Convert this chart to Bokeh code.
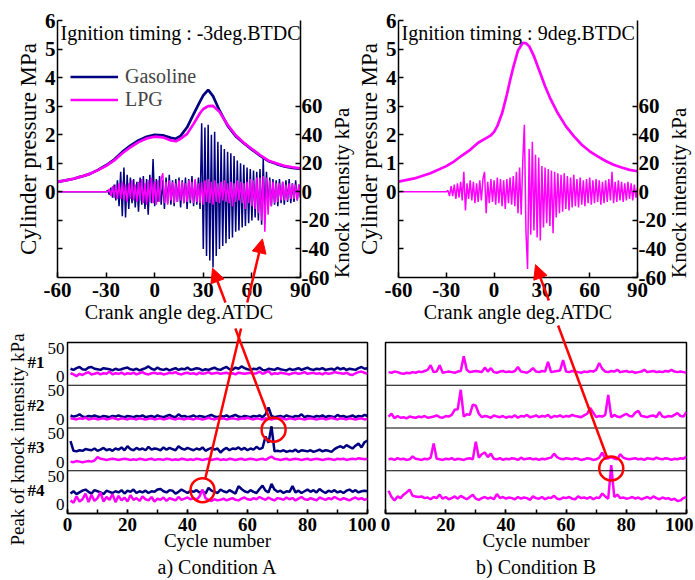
import math
from bokeh.plotting import figure
from bokeh.models import (Range1d, LinearAxis, FixedTicker, SingleIntervalTicker, Span, Label,
                          Legend, LegendItem, Arrow, NormalHead, Title)
from bokeh.layouts import row, column
from bokeh.embed import file_html
from bokeh.resources import INLINE
from bokeh.core.properties import value

SERIF = "Liberation Serif"
NAVY = "#000080"
MAGENTA = "#ff00ff"
RED = "#ff0000"

# ------------------------------------------------------------------ data
angle_ticks = [-60, -30, 0, 30, 60, 90]
press_ticks = [-2, -1, 0, 1, 2, 3, 4, 5, 6]
press_tick_labels = ["", "", "0", "1", "2", "3", "4", "5", "6"]
knock_ticks = [-60, -40, -20, 0, 20, 40, 60]
knock_tick_labels = ["-60", "-40", "-20", "0", "20", "40", "60"]
cycle_ticks_labels = ["0", "20", "40", "60", "80", "100"]

# cylinder pressure (MPa), condition A
press_angle_A = [-60, -55, -50, -45, -40, -35, -30, -25, -20, -15, -10, -5, 0, 5, 10, 13, 16,
                 20, 24, 28, 30, 33, 36, 40, 45, 50, 55, 60, 65, 70, 75, 80, 85, 90]
press_gas_A = [0.35, 0.40, 0.46, 0.54, 0.63, 0.77, 0.93, 1.13, 1.40, 1.62, 1.80, 1.93, 2.00, 1.98,
               1.89, 1.86, 1.96, 2.26, 2.72, 3.17, 3.38, 3.57, 3.35, 2.85, 2.32, 1.95, 1.70, 1.48,
               1.27, 1.08, 0.98, 0.89, 0.84, 0.80]
press_lpg_A = [0.35, 0.40, 0.46, 0.54, 0.63, 0.76, 0.91, 1.10, 1.35, 1.56, 1.74, 1.87, 1.93, 1.91,
               1.80, 1.77, 1.86, 2.03, 2.38, 2.76, 2.90, 3.00, 3.01, 2.80, 2.35, 1.98, 1.72, 1.50,
               1.29, 1.10, 1.00, 0.91, 0.86, 0.82]
# cylinder pressure (MPa), condition B (LPG)
press_angle_B = [-60, -50, -40, -30, -25, -20, -15, -10, -5, -2, 0, 2, 5, 8, 10, 12, 15, 18, 20,
                 22, 25, 28, 32, 35, 40, 45, 50, 55, 60, 65, 70, 75, 80, 85, 90]
press_lpg_B = [0.36, 0.47, 0.65, 0.90, 1.07, 1.28, 1.47, 1.72, 1.88, 1.98, 2.10, 2.30, 2.75, 3.40,
               3.90, 4.35, 4.95, 5.22, 5.20, 5.10, 4.75, 4.30, 3.70, 3.30, 2.75, 2.30, 1.95, 1.65,
               1.42, 1.24, 1.08, 0.95, 0.85, 0.77, 0.72]

# knock intensity (kPa), sampled every crank degree from -30 to 90 (flat before -30)
knock_angle = [-60] + list(range(-30, 91))
knock_gas_A = [0,
    0, 1, -2, 3, -4, 5, -6, 8, -10, 14,
    -17, 17, -18, 12, -12, 10, -8, 9, -11, 7,
    -14, 10, -9, 11, -12, 9, -16, 12, -8, 23,
    -10, 9, -7, 11, -9, 8, -12, 10, -8, 12,
    -9, 8, -10, 9, -7, 10, -11, 8, -8, 10,
    -12, 9, -8, 11, -10, 8, -9, 10, -12, 48,
    -40, 45, -45, 47, -48, 40, -53, 42, -45, 35,
    -40, 33, -38, 30, -36, 28, -33, 27, -32, 25,
    -28, 22, -27, 20, -25, 19, -24, 17, -22, 16,
    -20, 15, -18, 14, -20, 16, -23, 23, -18, 14,
    -12, 10, -10, 9, -9, 8, -10, 9, -8, 7,
    -9, 8, -7, 9, -8, 6, -7, 8, -6, 5,
    -4]
knock_lpg_A = [0,
    0, 0, 2, -3, 4, -4, 5, -5, 6, -5,
    7, -6, 5, -7, 6, -5, 8, -6, 5, -7,
    7, -6, 9, -8, 6, -9, 8, -7, 10, -8,
    7, -9, 8, -7, 9, 13, -8, 7, -9, 8,
    -6, 7, -8, 6, -7, 8, -6, 7, -8, 6,
    -7, 8, -6, 7, -8, 9, -7, 6, -8, 7,
    -9, 8, -7, 9, -8, 7, -9, 8, -7, 6,
    -8, 7, -6, 8, -7, 6, -8, 7, -10, 6,
    -7, 8, -6, 7, -8, 6, -12, 7, -8, 9,
    -10, 8, -12, 10, -15, 10, -20, 11, -28, 10,
    -16, 8, -10, 7, -8, 6, -7, 6, -6, 7,
    -6, 5, -6, 6, -5, 6, -5, 5, -6, 5,
    -4]
knock_lpg_B = [0,
    0, 1, -3, 4, -3, 5, -5, 6, -4, 7,
    -6, 14, -13, 6, -5, 8, -6, 7, -8, 6,
    -7, 8, -6, 9, 14, -15, 7, -8, 9, -7,
    8, -9, 10, -8, 9, -10, 8, -12, 9, -8,
    10, -9, 11, -10, 14, -15, 17, -16, 22, 47,
    -28, -54, 30, -30, 35, -27, 26, -32, 24, -34,
    18, -25, 17, -22, 16, -24, 15, -29, 14, -18,
    13, -15, 12, -14, 13, -12, 11, -13, 10, -11,
    12, -10, 9, -11, 10, -9, 8, -10, 9, -8,
    10, -9, 8, -8, 9, -7, 8, -9, 7, -8,
    8, -7, 9, -6, 14, -8, 7, -7, 8, -6,
    7, -7, 6, -6, 7, -5, 6, -6, 5, -4,
    3]

# peak of knock intensity (kPa) per cycle, cylinders #1..#4
cycles = list(range(1, 101))
gasA_1 = [14, 12, 15, 17, 13, 12, 16, 17, 14, 13, 12, 15, 14, 13, 11, 14, 12, 13, 15, 16,
          13, 12, 14, 11, 13, 15, 18, 14, 12, 16, 13, 12, 14, 11, 13, 15, 12, 14, 13, 16,
          12, 13, 15, 14, 11, 13, 12, 14, 16, 13, 12, 15, 17, 13, 12, 16, 14, 18, 15, 13,
          12, 14, 13, 16, 12, 11, 14, 13, 12, 15, 13, 12, 11, 14, 12, 13, 15, 12, 14, 16,
          13, 12, 14, 13, 15, 12, 13, 14, 12, 16, 13, 15, 12, 14, 13, 12, 15, 17, 14, 15]
lpgA_1 = [6, 4, 1, 5, 3, 6, 8, 4, 5, 7, 4, 6, 5, 9, 4, 6, 5, 7, 4, 6,
          5, 7, 4, 6, 8, 5, 4, 6, 7, 5, 6, 4, 5, 7, 6, 8, 5, 4, 6, 7,
          5, 6, 4, 7, 5, 6, 8, 5, 6, 7, 5, 6, 7, 5, 6, 4, 7, 6, 5, 6,
          7, 5, 6, 9, 5, 7, 10, 4, 6, 5, 7, 6, 5, 4, 6, 7, 5, 6, 8, 5,
          6, 7, 5, 6, 4, 7, 5, 6, 8, 7, 6, 5, 7, 4, 3, 6, 8, 9, 7, 5]
gasA_2 = [7, 5, 6, 9, 5, 4, 6, 5, 7, 5, 4, 6, 5, 4, 6, 5, 7, 5, 4, 6,
          5, 4, 6, 5, 7, 4, 5, 6, 4, 7, 5, 4, 6, 8, 5, 4, 9, 5, 6, 4,
          5, 7, 4, 6, 5, 4, 6, 8, 5, 4, 6, 5, 7, 4, 6, 8, 5, 4, 6, 5,
          4, 6, 5, 7, 4, 9, 21, 6, 4, 5, 6, 4, 7, 5, 4, 6, 5, 9, 4, 6,
          5, 4, 6, 5, 7, 4, 6, 5, 4, 8, 5, 6, 4, 5, 7, 4, 6, 5, 8, 6]
lpgA_2 = [2, 1, 0, 2, 1, 3, 0, 1, 2, 0, 1, 2, 0, 1, 3, 1, 0, 2, 1, 0,
          2, 1, 0, 2, 1, 0, 1, 2, 0, 1, 2, 0, 1, 3, 1, 0, 2, 1, 0, 2,
          1, 0, 2, 1, 0, 1, 3, 1, 0, 2, 1, 2, 0, 1, 2, 1, 0, 2, 1, 3,
          1, 0, 2, 1, 0, 2, 1, 0, 1, 2, 3, 1, 0, 2, 1, 0, 2, 1, 0, 1,
          2, 1, 0, 1, 2, 0, 1, 3, 1, 0, 2, 1, 0, 2, 1, 0, 1, 2, 0, 1]
gasA_3 = [37, 20, 19, 21, 20, 23, 22, 21, 24, 20, 22, 25, 21, 23, 20, 24, 22, 26, 21, 28,
          23, 21, 25, 22, 24, 21, 27, 22, 24, 23, 21, 26, 22, 25, 23, 21, 28, 24, 22, 25,
          23, 21, 24, 22, 26, 20, 23, 25, 22, 24, 17, 22, 25, 21, 24, 23, 26, 22, 25, 21,
          24, 22, 27, 23, 25, 45, 34, 63, 19, 20, 19, 21, 18, 20, 19, 22, 18, 21, 20, 19,
          21, 18, 20, 22, 19, 21, 20, 18, 23, 26, 28, 25, 30, 27, 24, 29, 33, 26, 35, 38]
lpgA_3 = [1, 0, 2, 1, 0, 1, 2, 1, 3, 9, 6, 5, 4, 5, 6, 5, 4, 5, 6, 5,
          4, 5, 4, 6, 5, 4, 5, 6, 4, 5, 5, 4, 6, 5, 4, 5, 4, 6, 5, 4,
          5, 4, 6, 5, 4, 5, 6, 4, 5, 6, 4, 5, 4, 6, 5, 4, 5, 6, 4, 5,
          6, 5, 4, 5, 6, 4, 7, 10, 6, 5, 4, 5, 6, 4, 5, 6, 5, 4, 5, 6,
          4, 5, 6, 5, 4, 5, 6, 5, 4, 6, 5, 6, 4, 5, 6, 5, 7, 6, 5, 6]
gasA_4 = [20, 24, 19, 22, 25, 27, 23, 20, 26, 24, 22, 19, 25, 23, 21, 24, 22, 26, 20, 25,
          23, 27, 21, 24, 22, 25, 21, 24, 23, 27, 28, 24, 22, 26, 25, 20, 23, 27, 24, 21,
          25, 23, 26, 22, 24, 20, 30, 25, 23, 21, 27, 24, 22, 26, 23, 20, 33, 28, 24, 22,
          26, 23, 21, 28, 34, 25, 22, 37, 27, 23, 25, 21, 24, 23, 33, 22, 25, 21, 24, 27,
          23, 26, 22, 28, 24, 21, 25, 23, 26, 22, 24, 21, 25, 27, 23, 26, 22, 24, 25, 24]
lpgA_4 = [8, 4, 15, 6, 10, 20, 5, 18, 7, 12, 22, 6, 14, 9, 19, 5, 16, 8, 13, 6,
          17, 9, 12, 7, 15, 10, 8, 14, 6, 11, 9, 13, 7, 12, 10, 8, 14, 9, 11, 13,
          10, 12, 9, 15, 27, 12, 9, 7, 10, 8, 9, 11, 8, 10, 12, 9, 8, 11, 13, 10,
          9, 12, 10, 14, 11, 9, 13, 10, 8, 12, 11, 9, 13, 10, 12, 8, 11, 14, 10, 9,
          12, 10, 8, 13, 11, 9, 12, 10, 14, 11, 9, 12, 10, 8, 11, 13, 10, 12, 9, 11]
lpgB_1 = [8, 7, 9, 8, 6, 5, 7, 6, 8, 7, 9, 8, 10, 12, 20, 8, 9, 20, 7, 8,
          9, 8, 7, 9, 10, 36, 12, 8, 9, 10, 9, 8, 16, 9, 15, 8, 7, 9, 10, 8,
          9, 8, 10, 17, 9, 8, 7, 10, 15, 9, 8, 10, 9, 26, 8, 9, 10, 11, 29, 9,
          8, 10, 9, 8, 7, 9, 8, 10, 9, 12, 24, 14, 9, 8, 10, 9, 12, 8, 9, 10,
          8, 9, 7, 8, 9, 12, 8, 9, 10, 8, 9, 8, 10, 9, 12, 9, 8, 9, 8, 7]
lpgB_2 = [5, 10, 2, 6, 3, 4, 2, 5, 4, 3, 5, 4, 6, 3, 4, 5, 7, 4, 3, 6,
          5, 8, 17, 18, 52, 5, 9, 8, 26, 24, 10, 4, 6, 5, 3, 7, 5, 4, 6, 3,
          5, 4, 7, 3, 6, 5, 8, 4, 5, 7, 4, 6, 5, 8, 3, 6, 5, 7, 4, 6,
          5, 8, 6, 5, 4, 7, 10, 20, 12, 4, 6, 5, 8, 43, 4, 8, 5, 4, 7, 10,
          6, 5, 12, 15, 6, 5, 4, 6, 7, 4, 13, 5, 4, 6, 5, 8, 11, 6, 5, 13]
lpgB_3 = [5, 6, 4, 7, 5, 6, 4, 5, 10, 6, 5, 4, 6, 5, 8, 33, 6, 5, 4, 6,
          5, 7, 4, 6, 5, 4, 6, 7, 5, 36, 8, 14, 17, 9, 15, 6, 5, 7, 4, 6,
          5, 7, 6, 4, 8, 5, 6, 7, 5, 6, 4, 6, 5, 7, 8, 15, 9, 6, 5, 7,
          6, 5, 7, 6, 4, 5, 7, 6, 4, 5, 8, 17, 6, 7, 9, 6, 5, 14, 8, 6,
          5, 6, 7, 5, 6, 4, 7, 6, 5, 8, 6, 5, 7, 6, 4, 6, 5, 7, 6, 10]
lpgB_4 = [25, 14, 8, 15, 12, 18, 22, 27, 16, 15, 14, 15, 12, 13, 10, 14, 12, 18, 11, 14,
          10, 12, 15, 11, 16, 13, 10, 14, 18, 11, 9, 12, 14, 11, 13, 10, 19, 12, 14, 11,
          13, 12, 10, 14, 11, 13, 12, 9, 15, 12, 11, 14, 10, 13, 12, 16, 11, 10, 13, 12,
          14, 11, 10, 15, 12, 13, 11, 14, 10, 13, 12, 20, 15, 11, 70, 14, 18, 12, 13, 11,
          12, 14, 11, 13, 10, 12, 14, 11, 15, 12, 10, 13, 11, 12, 9, 11, 7, 8, 12, 14]

strip_names = ["#1", "#2", "#3", "#4"]
strip_tick_labels = ["0", "50"]

# ------------------------------------------------------------------ geometry (page pixels)
TOP_H, TOP_BT, TOP_BB = 328, 20, 51
TL_W, TL_BL, TL_BR = 353, 57, 53
TR_W, TR_BL, TR_BR = 340, 40, 56
BOT_H, BOT_BT, BOT_BB = 250, 14, 65
BL_W, BL_BL, BL_BR = 376, 67, 9
BR_W, BR_BL, BR_BR = 317, 9, 7
TOTAL_W, TOTAL_H = TL_W + TR_W, TOP_H + BOT_H
STRIP, ZERO = 75, 15
CIRCLE_R = 12


def geom(ox, oy, w, h, bl, br, bt, bb, xr, yr):
    return dict(left=ox + bl, top=oy + bt, w=w - bl - br, h=h - bt - bb,
                x0=xr[0], x1=xr[1], y0=yr[0], y1=yr[1])


def to_px(g, x, y):
    return (g["left"] + (x - g["x0"]) / (g["x1"] - g["x0"]) * g["w"],
            g["top"] + (g["y1"] - y) / (g["y1"] - g["y0"]) * g["h"])


def strip_y(k, v):
    return (4 - k) * STRIP + ZERO + v


G_TL = geom(0, 0, TL_W, TOP_H, TL_BL, TL_BR, TOP_BT, TOP_BB, (-60, 90), (-3, 6))
G_TR = geom(TL_W, 0, TR_W, TOP_H, TR_BL, TR_BR, TOP_BT, TOP_BB, (-60, 90), (-3, 6))
G_BL = geom(0, TOP_H, BL_W, BOT_H, BL_BL, BL_BR, BOT_BT, BOT_BB, (0, 100), (0, 4 * STRIP))
G_BR = geom(BL_W, TOP_H, BR_W, BOT_H, BR_BL, BR_BR, BOT_BT, BOT_BB, (0, 100), (0, 4 * STRIP))


def make_fig(w, h, bl, br, bt, bb, xr, yr):
    p = figure(width=w, height=h, x_range=Range1d(*xr), y_range=Range1d(*yr),
               output_backend="svg", toolbar_location=None,
               min_border_left=bl, min_border_right=br, min_border_top=bt, min_border_bottom=bb)
    p.grid.visible = False
    p.background_fill_color = "white"
    p.border_fill_color = "white"
    return p


def style_axis(ax, size, bold=True, tick_in=5):
    ax.major_label_text_font = SERIF
    ax.major_label_text_font_size = size
    ax.major_label_text_font_style = "bold" if bold else "normal"
    ax.major_label_text_color = "black"
    ax.axis_line_color = "black"
    ax.axis_line_width = 1.5
    ax.major_tick_in = tick_in
    ax.major_tick_out = 0
    ax.major_tick_line_color = "black"
    ax.major_tick_line_width = 1.5
    ax.minor_tick_line_color = None
    ax.axis_label_text_font = SERIF
    ax.axis_label_text_font_style = "normal"
    ax.axis_label_text_color = "black"


def top_panel(w, bl, br, title):
    p = make_fig(w, TOP_H, bl, br, TOP_BT, TOP_BB, (-60, 90), (-3, 6))
    p.outline_line_color = None
    p.extra_y_ranges = {"knock": Range1d(-60, 120)}
    xa = p.xaxis[0]
    style_axis(xa, "21px")
    xa.ticker = FixedTicker(ticks=angle_ticks)
    xa.major_label_overrides = {t: str(t) for t in angle_ticks}
    xa.major_label_standoff = 5
    xa.axis_label = "Crank angle deg.ATDC"
    xa.axis_label_text_font_size = "20px"
    xa.axis_label_standoff = 1
    ya = p.yaxis[0]
    style_axis(ya, "21px")
    ya.ticker = FixedTicker(ticks=press_ticks)
    ya.major_label_overrides = dict(zip(press_ticks, press_tick_labels))
    ya.major_label_standoff = 2
    ya.axis_label = "Cylinder pressure MPa"
    ya.axis_label_text_font_size = "23px"
    ya.axis_label_standoff = 1
    ra = LinearAxis(y_range_name="knock", ticker=FixedTicker(ticks=knock_ticks))
    style_axis(ra, "21px")
    ra.major_label_overrides = dict(zip(knock_ticks, knock_tick_labels))
    ra.major_label_standoff = 1
    p.add_layout(ra, "right")
    p.add_layout(Label(x=-58.1, y=5.93, text=title, text_baseline="top", text_align="left",
                       text_font=SERIF, text_font_size="20px", text_color="black"))
    return p


tl = top_panel(TL_W, TL_BL, TL_BR, "Ignition timing : -3deg.BTDC")
tr = top_panel(TR_W, TR_BL, TR_BR, "Ignition timing : 9deg.BTDC")

tl.line(knock_angle, knock_gas_A, y_range_name="knock", line_color=NAVY, line_width=1.5)
tl.line(knock_angle, knock_lpg_A, y_range_name="knock", line_color=MAGENTA, line_width=1.5)
r_gas = tl.line(press_angle_A, press_gas_A, line_color=NAVY, line_width=2.7)
r_lpg = tl.line(press_angle_A, press_lpg_A, line_color=MAGENTA, line_width=2.7)
tl.add_layout(Legend(items=[LegendItem(label=value("Gasoline"), renderers=[r_gas]),
                            LegendItem(label=value("LPG"), renderers=[r_lpg])],
                     location=(13, 166), glyph_width=48, glyph_height=21, label_height=21,
                     label_standoff=7, spacing=0, padding=0, margin=0,
                     border_line_color=None, background_fill_alpha=0,
                     label_text_font=SERIF, label_text_font_size="20px"))

tr.line(knock_angle, knock_lpg_B, y_range_name="knock", line_color=MAGENTA, line_width=1.5)
tr.line(press_angle_B, press_lpg_B, line_color=MAGENTA, line_width=2.7)


def bottom_panel(w, bl, br, with_y, caption):
    p = make_fig(w, BOT_H, bl, br, BOT_BT, BOT_BB, (0, 100), (0, 4 * STRIP))
    p.outline_line_color = "black"
    p.outline_line_width = 1.5
    xa = p.xaxis[0]
    style_axis(xa, "19px", tick_in=4)
    xa.ticker = SingleIntervalTicker(interval=20, num_minor_ticks=2)
    xa.major_label_overrides = {i * 20: s for i, s in enumerate(cycle_ticks_labels)}
    xa.minor_tick_line_color = "black"
    xa.minor_tick_in = 4
    xa.minor_tick_out = 0
    xa.minor_tick_line_width = 1.5
    xa.major_label_standoff = 4
    xa.axis_label = "Cycle number"
    xa.axis_label_text_font_size = "19px"
    xa.axis_label_standoff = -4
    ya = p.yaxis[0]
    if with_y:
        ticks, labels = [], {}
        for k in range(1, 5):
            for v, s in zip([0, 50], strip_tick_labels):
                t = strip_y(k, v)
                ticks.append(t)
                labels[t] = s
        style_axis(ya, "17px", bold=False)
        ya.ticker = FixedTicker(ticks=sorted(ticks))
        ya.major_label_overrides = labels
        ya.major_tick_line_color = None
        ya.axis_line_color = None
        ya.major_label_standoff = 3
        hx = LinearAxis()
        style_axis(hx, "17px", bold=True)
        hticks = [strip_y(k, 25) for k in range(1, 5)]
        hx.ticker = FixedTicker(ticks=hticks)
        hx.major_label_overrides = dict(zip(hticks, strip_names))
        hx.major_tick_line_color = None
        hx.axis_line_color = None
        hx.major_label_standoff = 0
        p.add_layout(hx, "left")
    else:
        ya.visible = False
    for k in range(1, 4):
        p.add_layout(Span(location=k * STRIP, dimension="width", line_color="black", line_width=1))
    p.add_layout(Title(text=caption, align="center", text_font=SERIF, text_font_size="20px",
                       text_font_style="normal", text_color="black", standoff=0), "below")
    return p


bl = bottom_panel(BL_W, BL_BL, BL_BR, True, "a) Condition A")
br = bottom_panel(BR_W, BR_BL, BR_BR, False, "b) Condition B")

for k, (gs, ls) in enumerate([(gasA_1, lpgA_1), (gasA_2, lpgA_2), (gasA_3, lpgA_3), (gasA_4, lpgA_4)], start=1):
    bl.line(cycles, [strip_y(k, v) for v in gs], line_color=NAVY, line_width=2.5)
    bl.line(cycles, [strip_y(k, v) for v in ls], line_color=MAGENTA, line_width=2.5)
for k, ls in enumerate([lpgB_1, lpgB_2, lpgB_3, lpgB_4], start=1):
    br.line(cycles, [strip_y(k, v) for v in ls], line_color=MAGENTA, line_width=2.5)

# ---- transparent overlay: red call-outs linking the panels, and the free-standing titles
ov = figure(width=TOTAL_W, height=TOTAL_H, x_range=Range1d(0, TOTAL_W), y_range=Range1d(TOTAL_H, 0),
            x_axis_location=None, y_axis_location=None, toolbar_location=None,
            output_backend="svg", min_border=0)
ov.grid.visible = False
ov.outline_line_color = None
ov.background_fill_alpha = 0
ov.border_fill_alpha = 0
ov.styles = {"margin-top": f"-{TOTAL_H}px"}


def side_title(x, y, text, size):
    ov.add_layout(Label(x=x, y=y, text=text, angle=math.pi / 2, text_align="center",
                        text_baseline="middle", text_font=SERIF, text_font_size=size,
                        text_color="black"))


for g in (G_TL, G_TR):
    side_title(g["left"] + g["w"] + 41, to_px(g, 0, 0)[1] + 1, "Knock intensity kPa", "21px")
side_title(G_BL["left"] - 50, G_BL["top"] + 97, "Peak of knock intensity kPa", "19px")


def add_link(gtop, tip, gbot, circ, gap):
    tx, ty = to_px(gtop, *tip)
    cx, cy = to_px(gbot, *circ)
    dx, dy = tx - cx, ty - cy
    L = math.hypot(dx, dy)
    ex, ey = cx + CIRCLE_R * dx / L, cy + CIRCLE_R * dy / L

    def x_at(py):
        return cx + (py - cy) * dx / dy

    y_hi, y_lo = gap
    ov.add_layout(Arrow(end=NormalHead(size=14, fill_color=RED, line_color=RED, line_width=1),
                        x_start=x_at(y_hi), y_start=y_hi, x_end=tx, y_end=ty,
                        line_color=RED, line_width=2.5))
    ov.segment(x0=[x_at(y_lo)], y0=[y_lo], x1=[ex], y1=[ey], line_color=RED, line_width=2.5)
    ov.scatter([cx], [cy], marker="circle", size=2 * CIRCLE_R, fill_color=None,
               line_color=RED, line_width=2.5)


add_link(G_TL, (35.7, -53.5 / 20), G_BL, (68.7, strip_y(3, 57)), (302, 328))
add_link(G_TL, (66.5, -33 / 20), G_BL, (45, strip_y(4, 26)), (302, 328))
add_link(G_TR, (27.3, -51 / 20), G_BR, (75, strip_y(4, 64)), (300, 325))

layout = column(row(tl, tr), row(bl, br), ov)
open("out.html", "w").write(file_html(layout, INLINE))
